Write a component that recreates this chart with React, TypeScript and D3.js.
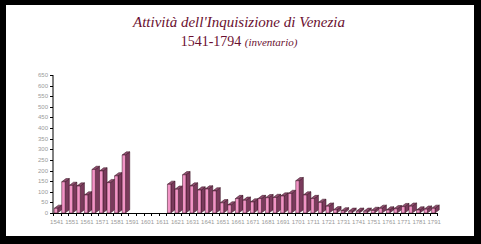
import React from "react";
import * as d3 from "d3";

const titleLine1 = "Attività dell'Inquisizione di Venezia";
const titleYears = "1541-1794";
const titleNote = "(inventario)";

const periods: number[] = [
  1541, 1546, 1551, 1556, 1561, 1566, 1571, 1576, 1581, 1586,
  1591, 1596, 1601, 1606, 1611, 1616, 1621, 1626, 1631, 1636,
  1641, 1646, 1651, 1656, 1661, 1666, 1671, 1676, 1681, 1686,
  1691, 1696, 1701, 1706, 1711, 1716, 1721, 1726, 1731, 1736,
  1741, 1746, 1751, 1756, 1761, 1766, 1771, 1776, 1781, 1786, 1791,
];

const trials: number[] = [
  22, 147, 130, 127, 85, 205, 198, 143, 175, 273,
  0, 0, 0, 0, 0, 135, 112, 180, 127, 108,
  113, 104, 48, 38, 68, 60, 52, 68, 72, 73,
  80, 92, 152, 85, 68, 50, 32, 15, 10, 8,
  8, 8, 12, 22, 14, 20, 30, 32, 14, 18, 22,
];

const yTicks: number[] = d3.range(0, 651, 50);
const xLabels: number[] = periods.filter((_, i) => i % 2 === 0);

export default function App() {
  const W = 481, H = 244;
  const left = 53, right = 438, top = 75, bottom = 213;
  const x = d3.scaleBand<number>().domain(periods).range([left, right]).paddingInner(0).paddingOuter(0);
  const y = d3.scaleLinear().domain([0, 650]).range([bottom, top]);
  const bw = x.bandwidth();
  const fw = 3.4;
  const dx = 4.2, dy = 3.2;
  const front = "#f294c6", side = "#7a3a5c", topC = "#8e4c6e", stroke = "#34101f";

  return (
    <svg width={W} height={H} style={{ position: "absolute", left: 0, top: 0 }}>
      <rect x={0} y={0} width={W} height={H} fill="#000" />
      <rect x={6} y={5} width={468} height={231} fill="#fff" />
      <text x={239} y={27} textAnchor="middle" fontFamily="'Liberation Serif', serif" fontStyle="italic" fontSize={15} fill="#6a1030">
        {titleLine1}
      </text>
      <text x={239} y={46} textAnchor="middle" fontFamily="'Liberation Serif', serif" fill="#6a1030">
        <tspan fontSize={14}>{titleYears} </tspan>
        <tspan fontSize={11} fontStyle="italic">{titleNote}</tspan>
      </text>

      {/* y axis */}
      <line x1={left} x2={left} y1={top} y2={bottom} stroke="#000" strokeWidth={1} />
      {yTicks.map((t) => (
        <g key={t}>
          <line x1={left - 3} x2={left} y1={Math.round(y(t)) + 0.5} y2={Math.round(y(t)) + 0.5} stroke="#000" />
          <text x={left - 5} y={y(t) + 2} textAnchor="end" fontFamily="'Liberation Sans', Arial, sans-serif" fontSize={6} fill="#9a9a9a">
            {t}
          </text>
        </g>
      ))}

      {/* bars */}
      {periods.map((p, i) => {
        const v = trials[i];
        if (!v) return null;
        const x0 = (x(p) as number) + 1.2;
        const y0 = y(v);
        const fr = `M${x0},${bottom}V${y0}H${x0 + fw}V${bottom}Z`;
        const sd = `M${x0 + fw},${bottom}V${y0}L${x0 + fw + dx},${y0 - dy}V${bottom - dy}Z`;
        const tp = `M${x0},${y0}L${x0 + dx},${y0 - dy}H${x0 + fw + dx}L${x0 + fw},${y0}Z`;
        return (
          <g key={p} stroke={stroke} strokeWidth={0.5}>
            <path d={sd} fill={side} />
            <path d={tp} fill={topC} />
            <path d={fr} fill={front} />
          </g>
        );
      })}

      {/* x axis */}
      <line x1={left} x2={right} y1={bottom + 0.5} y2={bottom + 0.5} stroke="#000" strokeWidth={1} />
      {periods.map((p) => (
        <line key={p} x1={Math.round(x(p) as number) + 0.5} x2={Math.round(x(p) as number) + 0.5} y1={bottom} y2={bottom + 3} stroke="#000" />
      ))}
      <line x1={right - 0.5} x2={right - 0.5} y1={bottom} y2={bottom + 3} stroke="#000" />
      {xLabels.map((p) => (
        <text key={p} x={(x(p) as number) + bw / 2} y={224} textAnchor="middle" fontFamily="'Liberation Sans', Arial, sans-serif" fontSize={6} fill="#9a9a9a">
          {p}
        </text>
      ))}
    </svg>
  );
}
